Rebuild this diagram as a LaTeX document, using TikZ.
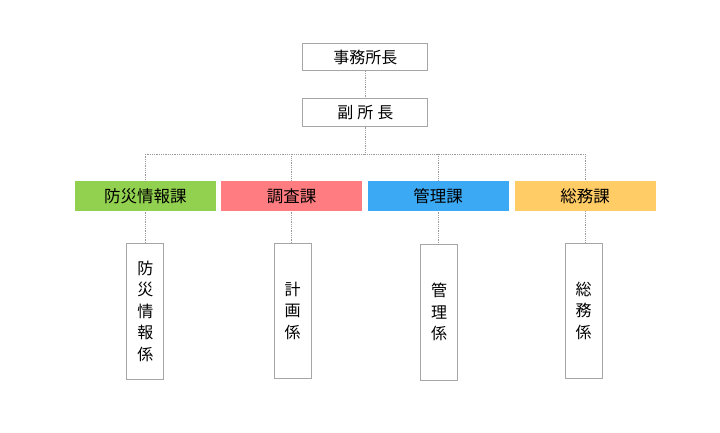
\documentclass[tikz,border=0pt]{standalone}
\usepackage{fontspec}
\setmainfont{Noto Sans CJK JP}
\definecolor{bosaicol}{HTML}{92D050}
\definecolor{chosacol}{HTML}{FF7C80}
\definecolor{kanricol}{HTML}{3CA9F5}
\definecolor{somucol}{HTML}{FFCC66}
\definecolor{framecol}{HTML}{A6A6A6}
\definecolor{linkcol}{HTML}{9A9A9A}
\begin{document}
\begin{tikzpicture}[x=1pt,y=-1pt,
  headbox/.style={draw=framecol,line width=0.9pt,fill=white,minimum width=125pt,minimum height=27.5pt,inner sep=0pt,font=\fontsize{16}{18}\selectfont},
  deptbox/.style={minimum width=141pt,minimum height=30pt,inner sep=0pt,font=\fontsize{16.5}{18}\selectfont},
  unitbox/.style={draw=framecol,line width=0.9pt,fill=white,minimum width=37pt,minimum height=135.5pt,inner sep=0pt,align=center,font=\fontsize{16}{21.5}\selectfont},
  link/.style={draw=linkcol,line width=0.6pt,dash pattern=on 1pt off 0.8pt}]
\useasboundingbox (0,0) rectangle (720,433);

\node[headbox] (chief) at (365.3,57) {事務所長};
\node[headbox] (deputy) at (365.3,112.5) {副\hspace{4pt}所\hspace{4pt}長};
\coordinate (bus) at (365.3,154.3);

\node[deptbox,fill=bosaicol] (bosai) at (145.3,196.3) {防災情報課};
\node[deptbox,fill=chosacol] (chosa) at (291.7,196.3) {調査課};
\node[deptbox,fill=kanricol] (kanri) at (438,196.3) {管理課};
\node[deptbox,fill=somucol] (somu) at (585,195.8) {総務課};

\node[unitbox] (bosaiu) at (145.3,311.2) {防\\災\\情\\報\\係};
\node[unitbox] (keikaku) at (292.5,310.8) {計\\画\\係};
\node[unitbox] (kanriu) at (439.2,312.2) {管\\理\\係};
\node[unitbox] (somuu) at (583.7,310.8) {総\\務\\係};

\draw[link] (chief) -- (deputy);
\draw[link] (deputy) -- (bus);
\draw[link] (bus) -| (bosai);
\draw[link] (bus) -| (somu);
\draw[link] (bus -| chosa) -- (chosa);
\draw[link] (bus -| kanri) -- (kanri);
\draw[link] (bosai) -- (bosaiu);
\draw[link] (chosa) -- (chosa |- keikaku.north);
\draw[link] (kanri) -- (kanri |- kanriu.north);
\draw[link] (somu) -- (somu |- somuu.north);
\end{tikzpicture}
\end{document}
